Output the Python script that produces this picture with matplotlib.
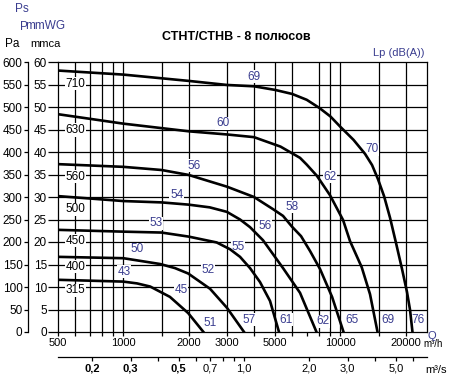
import matplotlib
matplotlib.use('Agg')
import matplotlib.pyplot as plt
from matplotlib.ticker import FixedLocator, NullFormatter

plt.rcParams['font.family'] = ['Liberation Sans', 'DejaVu Sans']

NAVY = '#3a3d8f'

# fan curves, Q in m3/h, Ps in mmca
q_710 = [500, 1000, 2000, 3000, 4000, 5000, 6000, 7000, 8000, 9000, 10000, 11500, 12990, 14000,
         14900, 15900, 16940, 18050, 19240, 20280, 20950, 21500]
p_710 = [58.1, 57.2, 55.8, 54.9, 54.6, 53.8, 52.9, 51.6, 49.8, 47.9, 45.6, 42.7, 39.6, 37.1,
         34.0, 30.2, 25.4, 19.8, 14.0, 8.9, 4.9, 0.0]

q_630 = [500, 1000, 2000, 3000, 4000, 5300, 6520, 7000, 7800, 8960, 10290, 11080, 12545, 13700, 14840]
p_630 = [48.4, 46.3, 44.6, 43.9, 43.3, 41.2, 38.7, 37.2, 34.7, 30.4, 24.9, 20.2, 14.4, 8.4, 0.0]

q_560 = [500, 1000, 1500, 2000, 3000, 4000, 4895, 5444, 5988, 6590, 7250, 8060, 9160, 10345]
p_560 = [37.3, 36.7, 36.0, 34.9, 32.3, 30.0, 27.3, 25.8, 23.4, 21.3, 18.0, 14.0, 7.8, 0.0]

q_500 = [500, 1000, 1500, 2000, 2500, 3000, 3450, 3835, 4400, 5444, 6520, 7765]
p_500 = [30.2, 29.1, 28.8, 28.3, 27.7, 26.7, 25.0, 23.3, 20.4, 14.2, 8.7, 0.0]

q_450 = [500, 1000, 1500, 2000, 2693, 3100, 3450, 3835, 4264, 4742, 5216]
p_450 = [22.7, 22.3, 22.1, 21.2, 19.9, 18.4, 16.7, 14.2, 11.1, 6.9, 0.0]

q_400 = [500, 1000, 1480, 1730, 1990, 2510, 3000, 3600]
p_400 = [16.7, 16.4, 15.1, 14.2, 13.0, 9.6, 5.4, 0.0]

q_315 = [500, 1000, 1156, 1330, 1640, 1990, 2340]
p_315 = [11.6, 11.2, 10.8, 10.1, 7.8, 4.2, 0.0]

sizes = ['710', '630', '560', '500', '450', '400', '315']
curves = [(q_710, p_710), (q_630, p_630), (q_560, p_560), (q_500, p_500),
          (q_450, p_450), (q_400, p_400), (q_315, p_315)]
size_label_p = [55.2, 44.9, 34.5, 27.3, 20.3, 14.5, 9.3]

# Lp dB(A) labels: (text, Q, Ps)
lp_labels = [
    ('69', 4000, 56.7), ('70', 13950, 40.6), ('76', 22870, 2.7),
    ('60', 2870, 46.4), ('62', 8963, 34.5), ('69', 16640, 2.7),
    ('56', 2124, 37.0), ('58', 5970, 27.8), ('65', 11285, 2.7),
    ('54', 1762, 30.4), ('56', 4497, 23.6), ('62', 8350, 2.4),
    ('53', 1414, 24.2), ('55', 3366, 18.8), ('61', 5620, 2.7),
    ('50', 1153, 18.4), ('52', 2463, 13.8), ('57', 3807, 2.7),
    ('43', 1007, 13.4), ('45', 1844, 9.3), ('51', 2508, 2.1),
]

v_grid = [600, 700, 800, 900, 1000, 1500, 2000, 3000, 4000, 5000, 6000, 8000, 9000, 10000, 15000, 20000]
q_major = [500, 1000, 2000, 3000, 5000, 10000, 20000]
q_minor = [600, 700, 800, 900, 1500, 4000, 6000, 7000, 8000, 9000, 15000]
ms_major = [0.2, 0.3, 0.5, 0.7, 1.0, 2.0, 3.0, 5.0]
ms_labels = ['0,2', '0,3', '0,5', '0,7', '1,0', '2,0', '3,0', '5,0']
ms_minor = [0.4, 0.6, 0.8, 0.9, 4.0, 6.0]

W, H = 455, 377
fig = plt.figure(figsize=(W / 100, H / 100), dpi=100)
ax = fig.add_axes([58 / W, (H - 332) / H, (426.7 - 58) / W, 270 / H])
ax.set_xscale('log')
ax.set_xlim(500, 25000)
ax.set_ylim(0, 60)

for q in v_grid:
    ax.axvline(q, color='black', lw=0.9, zorder=1)
for p in range(5, 60, 5):
    ax.axhline(p, color='black', lw=0.9, zorder=1)
for s in ax.spines.values():
    s.set_linewidth(0.9)

for (q, p) in curves:
    ax.plot(q, p, color='black', lw=1.9, solid_joinstyle='round', zorder=4)

for name, p in zip(sizes, size_label_p):
    ax.text(600, p, name, ha='center', va='center', fontsize=8.5, color='black', zorder=3,
            bbox=dict(facecolor='white', edgecolor='none', pad=0.4))
for t, q, p in lp_labels:
    ax.text(q, p, t, ha='center', va='center', fontsize=8.5, color=NAVY, zorder=3,
            bbox=dict(facecolor='white', edgecolor='none', pad=0.4))

ax.set_yticks(range(0, 61, 5))
ax.tick_params(axis='y', direction='out', length=7, width=0.9, pad=1, labelsize=8.5)
ax.xaxis.set_major_locator(FixedLocator(q_major))
ax.xaxis.set_minor_locator(FixedLocator(q_minor))
ax.xaxis.set_minor_formatter(NullFormatter())
ax.set_xticklabels([str(v) for v in q_major])
ax.tick_params(axis='x', which='both', direction='out', length=3, width=0.9, pad=1.5, labelsize=8)

# Pa axis
pa = ax.secondary_yaxis(-30 / 368.7, functions=(lambda v: v * 10, lambda v: v / 10))
pa.set_yticks(range(0, 601, 50))
pa.tick_params(direction='out', length=3, width=0.9, pad=1, labelsize=8.5)
pa.spines['left'].set_linewidth(0.9)

# m3/s axis
ms = ax.secondary_xaxis(-25 / 270, functions=(lambda q: q / 3600, lambda v: v * 3600))
ms.xaxis.set_major_locator(FixedLocator(ms_major))
ms.xaxis.set_minor_locator(FixedLocator(ms_minor))
ms.xaxis.set_minor_formatter(NullFormatter())
ms.set_xticklabels(ms_labels)
ms.tick_params(which='both', direction='out', length=3, width=0.9, pad=2, labelsize=8)
ms.spines['bottom'].set_linewidth(0.9)
for lab in ms.get_xticklabels()[:3]:
    lab.set_fontweight('bold')


def px(x, y):
    return x / W, 1 - y / H


fig.text(*px(236, 37), 'СТНТ/СТНВ - 8 полюсов', ha='center', va='center', fontsize=9, fontweight='bold')
fig.text(*px(399, 53), 'Lp (dB(A))', ha='center', va='center', fontsize=8, color=NAVY)
fig.text(*px(22, 9), 'Ps', ha='center', va='center', fontsize=8.5, color=NAVY)
fig.text(*px(20, 27), 'P', ha='left', va='center', fontsize=8.5, color=NAVY)
fig.text(*px(25, 26), 'mmWG', ha='left', va='center', fontsize=8.5, color=NAVY)
fig.text(*px(12, 44), 'Pa', ha='center', va='center', fontsize=8.5)
fig.text(*px(45, 44), 'mmca', ha='center', va='center', fontsize=8)
fig.text(*px(433, 344), 'm³/h', ha='center', va='center', fontsize=7)
fig.text(*px(432, 336), 'Q', ha='center', va='center', fontsize=8, color=NAVY)
fig.text(*px(436, 370), 'm³/s', ha='center', va='center', fontsize=8)

fig.savefig('out.png', dpi=100, facecolor='white')
